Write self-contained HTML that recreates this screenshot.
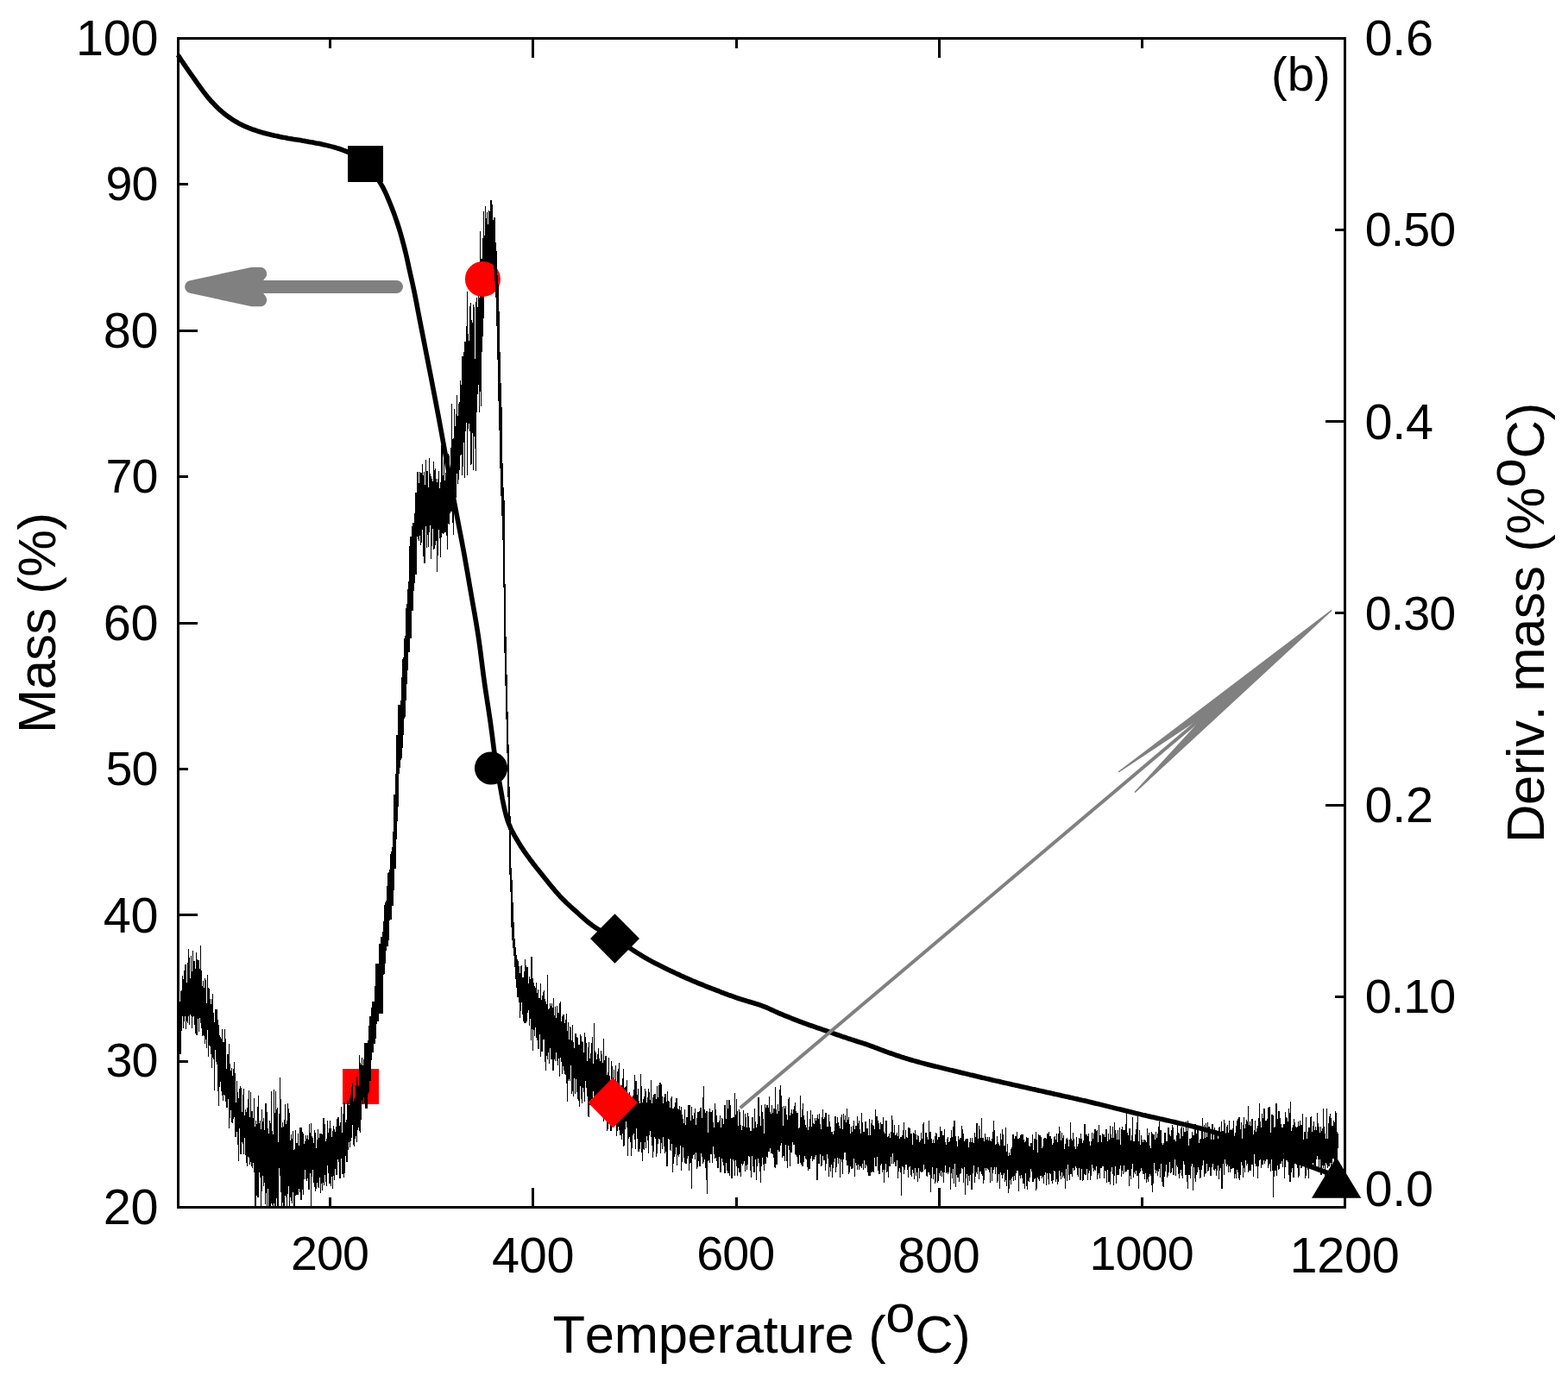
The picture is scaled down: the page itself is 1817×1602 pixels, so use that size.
<!DOCTYPE html>
<html><head><meta charset="utf-8"><title>TGA (b)</title>
<style>
html,body{margin:0;padding:0;background:#fff;overflow:hidden;}
svg{display:block;}
text{font-family:"Liberation Sans",sans-serif;fill:#000;font-kerning:none;font-variant-ligatures:none;}
.tk{font-size:57px;}
.tt{font-size:63px;}
</style></head><body>
<svg width="1817" height="1602" viewBox="0 0 1817 1602">
<rect x="0" y="0" width="1817" height="1602" fill="#fff"/>
<defs><clipPath id="cp"><rect x="206.5" y="44.5" width="1352.0" height="1355.0"/></clipPath></defs>
<rect x="397" y="1239" width="42" height="41" fill="#ff0000" shape-rendering="crispEdges"/>
<g clip-path="url(#cp)" fill="none" stroke="#000" stroke-width="1" shape-rendering="crispEdges">
<path d="M206.5,1196V1226M207.5,1175V1221M208.5,1161V1222M209.5,1149V1222M210.5,1148V1195M211.5,1131V1178M212.5,1135V1192M213.5,1125V1184M214.5,1118V1178M215.5,1118V1193M216.5,1139V1184M217.5,1116V1186M218.5,1100V1178M219.5,1110V1188M220.5,1134V1176M221.5,1108V1178M222.5,1126V1192M223.5,1102V1179M224.5,1114V1178M225.5,1114V1188M226.5,1123V1198M227.5,1104V1200M228.5,1112V1200M229.5,1113V1181M230.5,1113V1196M231.5,1123V1180M232.5,1096V1186M233.5,1125V1192M234.5,1143V1201M235.5,1137V1200M236.5,1145V1201M237.5,1134V1210M238.5,1136V1205M239.5,1163V1215M240.5,1130V1194M241.5,1145V1225M242.5,1146V1212M243.5,1158V1213M244.5,1164V1222M245.5,1158V1238M246.5,1152V1226M247.5,1174V1228M248.5,1185V1264M249.5,1170V1217M250.5,1170V1231M251.5,1170V1234M252.5,1182V1265M253.5,1188V1282M254.5,1200V1260M255.5,1202V1254M256.5,1204V1265M257.5,1193V1270M258.5,1208V1276M259.5,1208V1269M260.5,1193V1270M261.5,1204V1277M262.5,1239V1284M263.5,1222V1284M264.5,1222V1274M265.5,1210V1308M266.5,1233V1296M267.5,1241V1287M268.5,1238V1301M269.5,1247V1302M270.5,1239V1297M271.5,1231V1295M272.5,1244V1318M273.5,1278V1318M274.5,1253V1312M275.5,1266V1327M276.5,1273V1346M277.5,1262V1308M278.5,1259V1338M279.5,1261V1338M280.5,1289V1324M281.5,1269V1326M282.5,1262V1338M283.5,1293V1319M284.5,1286V1339M285.5,1289V1348M286.5,1284V1352M287.5,1274V1341M288.5,1264V1342M289.5,1295V1350M290.5,1266V1347M291.5,1288V1352M292.5,1288V1354M293.5,1296V1348M294.5,1273V1359M295.5,1306V1403M296.5,1299V1403M297.5,1303V1386M298.5,1283V1388M299.5,1270V1388M300.5,1302V1359M301.5,1299V1365M302.5,1309V1411M303.5,1286V1381M304.5,1300V1363M305.5,1296V1375M306.5,1310V1371M307.5,1279V1396M308.5,1279V1383M309.5,1289V1407M310.5,1308V1378M311.5,1314V1433M312.5,1299V1422M313.5,1302V1435M314.5,1265V1395M315.5,1311V1397M316.5,1315V1433M317.5,1263V1395M318.5,1290V1403M319.5,1265V1403M320.5,1286V1389M321.5,1284V1404M322.5,1324V1404M323.5,1291V1354M324.5,1249V1363M325.5,1274V1382M326.5,1307V1428M327.5,1301V1394M328.5,1306V1400M329.5,1298V1404M330.5,1280V1386M331.5,1303V1388M332.5,1299V1407M333.5,1279V1384M334.5,1285V1375M335.5,1290V1399M336.5,1322V1388M337.5,1315V1392M338.5,1320V1395M339.5,1311V1382M340.5,1333V1403M341.5,1332V1402M342.5,1310V1386M343.5,1325V1385M344.5,1325V1385M345.5,1314V1385M346.5,1328V1378M347.5,1307V1382M348.5,1307V1391M349.5,1307V1391M350.5,1312V1379M351.5,1314V1385M352.5,1326V1367M353.5,1323V1356M354.5,1316V1367M355.5,1320V1369M356.5,1316V1366M357.5,1321V1379M358.5,1303V1379M359.5,1313V1360M360.5,1302V1404M361.5,1317V1364M362.5,1319V1356M363.5,1325V1371M364.5,1310V1376M365.5,1313V1381M366.5,1331V1378M367.5,1321V1371M368.5,1309V1376M369.5,1319V1377M370.5,1314V1365M371.5,1314V1383M372.5,1314V1372M373.5,1315V1380M374.5,1296V1371M375.5,1296V1374M376.5,1303V1362M377.5,1323V1370M378.5,1320V1375M379.5,1299V1351M380.5,1313V1360M381.5,1308V1372M382.5,1299V1372M383.5,1308V1375M384.5,1318V1364M385.5,1311V1378M386.5,1305V1363M387.5,1309V1368M388.5,1312V1355M389.5,1306V1362M390.5,1297V1362M391.5,1295V1344M392.5,1295V1347M393.5,1305V1366M394.5,1301V1366M395.5,1283V1343M396.5,1313V1361M397.5,1291V1361M398.5,1279V1365M399.5,1278V1360M400.5,1301V1340M401.5,1298V1347M402.5,1275V1347M403.5,1276V1333M404.5,1281V1324M405.5,1273V1330M406.5,1269V1323M407.5,1260V1319M408.5,1255V1304M409.5,1277V1327M410.5,1274V1329M411.5,1272V1320M412.5,1258V1317M413.5,1248V1324M414.5,1255V1310M415.5,1259V1307M416.5,1223V1311M417.5,1232V1313M418.5,1234V1298M419.5,1226V1275M420.5,1235V1280M421.5,1228V1272M422.5,1209V1279M423.5,1209V1285M424.5,1209V1285M425.5,1209V1285M426.5,1206V1268M427.5,1189V1266M428.5,1178V1253M429.5,1178V1253M430.5,1168V1229M431.5,1161V1220M432.5,1161V1220M433.5,1161V1210M434.5,1143V1210M435.5,1117V1204M436.5,1117V1187M437.5,1117V1184M438.5,1117V1184M439.5,1094V1175M440.5,1094V1175M441.5,1086V1175M442.5,1086V1175M443.5,1080V1175M444.5,1068V1130M445.5,1049V1129M446.5,1046V1117M447.5,1044V1102M448.5,1027V1097M449.5,1012V1097M450.5,1011V1090M451.5,1008V1067M452.5,990V1066M453.5,987V1066M454.5,982V1050M455.5,964V1050M456.5,921V1032M457.5,921V1007M458.5,897V1007M459.5,852V973M460.5,852V952M461.5,817V935M462.5,817V897M463.5,817V890M464.5,812V881M465.5,785V879M466.5,764V867M467.5,762V852M468.5,740V833M469.5,737V831M470.5,705V812M471.5,700V793M472.5,683V777M473.5,674V756M474.5,633V756M475.5,622V740M476.5,622V740M477.5,610V708M478.5,606V708M479.5,606V685M480.5,595V676M481.5,571V666M482.5,571V666M483.5,547V622M484.5,547V625M485.5,560V627M486.5,547V621M487.5,548V632M488.5,548V629M489.5,538V614M490.5,551V645M491.5,547V653M492.5,562V653M493.5,533V610M494.5,546V635M495.5,546V620M496.5,565V634M497.5,531V617M498.5,549V609M499.5,552V648M500.5,555V633M501.5,558V613M502.5,535V637M503.5,545V636M504.5,543V632M505.5,555V627M506.5,559V663M507.5,555V644M508.5,546V614M509.5,566V624M510.5,559V646M511.5,516V623M512.5,516V618M513.5,551V619M514.5,532V618M515.5,557V617M516.5,548V617M517.5,538V621M518.5,538V637M519.5,526V607M520.5,528V608M521.5,549V595M522.5,519V593M523.5,468V593M524.5,509V606M525.5,508V620M526.5,474V569M527.5,494V580M528.5,480V577M529.5,458V549M530.5,482V561M531.5,468V556M532.5,466V545M533.5,441V528M534.5,446V527M535.5,413V551M536.5,413V541M537.5,408V513M538.5,396V554M539.5,396V500M540.5,378V490M541.5,338V551M542.5,387V497M543.5,395V491M544.5,355V500M545.5,351V539M546.5,371V538M547.5,374V502M548.5,353V545M549.5,356V506M550.5,416V520M551.5,350V546M552.5,345V478M553.5,356V457M554.5,324V446M555.5,345V478M556.5,268V454M557.5,300V471M558.5,300V408M559.5,276V390M560.5,245V369M561.5,273V325M562.5,239V326M563.5,253V326M564.5,246V315M565.5,260V312M566.5,244V312M567.5,245V312M568.5,232V312M569.5,232V312M570.5,237V312M571.5,255V312"/>
</g>
<circle cx="559.4" cy="323.4" r="20.5" fill="#ff0000"/>
<g clip-path="url(#cp)" fill="none" stroke="#000" stroke-width="1" shape-rendering="crispEdges">
<path d="M572.5,252V312M573.5,252V326M574.5,281V345M575.5,291V378M576.5,319V417M577.5,330V465M578.5,361V499M579.5,408V543M580.5,444V575M581.5,472V598M582.5,537V626M583.5,565V681M584.5,580V757M585.5,677V795M586.5,738V834M587.5,782V873M588.5,825V924M589.5,863V962M590.5,912V1014M591.5,946V1034M592.5,1006V1075M593.5,1020V1090M594.5,1046V1099M595.5,1069V1108M596.5,1088V1121M597.5,1098V1135M598.5,1107V1145M599.5,1112V1156M600.5,1114V1156M601.5,1120V1162M602.5,1128V1180M603.5,1120V1172M604.5,1119V1162M605.5,1133V1176M606.5,1133V1184M607.5,1126V1186M608.5,1112V1186M609.5,1119V1186M610.5,1121V1184M611.5,1121V1174M612.5,1140V1171M613.5,1132V1189M614.5,1135V1181M615.5,1109V1206M616.5,1109V1193M617.5,1134V1218M618.5,1139V1194M619.5,1143V1201M620.5,1145V1191M621.5,1139V1203M622.5,1151V1206M623.5,1147V1216M624.5,1157V1216M625.5,1157V1199M626.5,1140V1225M627.5,1159V1219M628.5,1154V1219M629.5,1150V1205M630.5,1148V1205M631.5,1158V1231M632.5,1161V1241M633.5,1164V1224M634.5,1130V1228M635.5,1170V1220M636.5,1169V1233M637.5,1163V1215M638.5,1166V1228M639.5,1163V1228M640.5,1168V1241M641.5,1157V1241M642.5,1177V1228M643.5,1167V1230M644.5,1180V1220M645.5,1166V1230M646.5,1174V1235M647.5,1174V1227M648.5,1163V1248M649.5,1161V1226M650.5,1184V1231M651.5,1178V1245M652.5,1176V1236M653.5,1176V1241M654.5,1186V1245M655.5,1182V1246M656.5,1175V1256M657.5,1195V1277M658.5,1185V1253M659.5,1205V1251M660.5,1190V1253M661.5,1191V1235M662.5,1206V1268M663.5,1188V1265M664.5,1208V1271M665.5,1215V1250M666.5,1198V1268M667.5,1198V1251M668.5,1202V1266M669.5,1203V1274M670.5,1211V1276M671.5,1211V1283M672.5,1199V1259M673.5,1201V1274M674.5,1207V1279M675.5,1208V1261M676.5,1220V1266M677.5,1197V1277M678.5,1202V1253M679.5,1209V1261M680.5,1230V1271M681.5,1214V1294M682.5,1208V1295M683.5,1227V1281M684.5,1221V1280M685.5,1209V1274M686.5,1202V1274M687.5,1233V1265M688.5,1186V1271M689.5,1218V1273M690.5,1220V1287M691.5,1228V1277M692.5,1222V1274M693.5,1215V1288M694.5,1227V1275M695.5,1230V1292M696.5,1218V1289M697.5,1222V1279M698.5,1232V1292M699.5,1204V1300M700.5,1229V1294M701.5,1224V1294M702.5,1224V1291M703.5,1246V1311M704.5,1243V1309M705.5,1226V1300M706.5,1247V1284M707.5,1256V1311M708.5,1230V1311M709.5,1236V1298M710.5,1258V1302M711.5,1240V1299M712.5,1253V1300M713.5,1235V1300M714.5,1259V1317M715.5,1242V1311M716.5,1239V1306M717.5,1232V1310M718.5,1268V1316M719.5,1261V1316M720.5,1258V1321M721.5,1250V1314M722.5,1239V1329M723.5,1261V1328M724.5,1260V1309M725.5,1259V1300M726.5,1252V1307M727.5,1273V1340M728.5,1276V1320M729.5,1266V1318M730.5,1272V1324M731.5,1271V1340M732.5,1274V1331M733.5,1270V1316M734.5,1263V1314M735.5,1246V1321M736.5,1253V1332M737.5,1253V1308M738.5,1269V1320M739.5,1262V1335M740.5,1276V1335M741.5,1279V1332M742.5,1245V1324M743.5,1259V1336M744.5,1278V1346M745.5,1274V1332M746.5,1271V1333M747.5,1262V1324M748.5,1265V1331M749.5,1278V1317M750.5,1272V1322M751.5,1262V1337M752.5,1266V1316M753.5,1275V1311M754.5,1252V1318M755.5,1279V1328M756.5,1272V1342M757.5,1269V1335M758.5,1268V1318M759.5,1268V1320M760.5,1274V1341M761.5,1259V1337M762.5,1272V1326M763.5,1258V1320M764.5,1255V1321M765.5,1255V1337M766.5,1257V1325M767.5,1271V1332M768.5,1279V1318M769.5,1272V1329M770.5,1268V1337M771.5,1268V1335M772.5,1277V1352M773.5,1265V1352M774.5,1276V1320M775.5,1277V1321M776.5,1284V1333M777.5,1273V1334M778.5,1271V1326M779.5,1285V1359M780.5,1285V1349M781.5,1283V1341M782.5,1278V1338M783.5,1273V1330M784.5,1273V1351M785.5,1285V1339M786.5,1286V1341M787.5,1282V1338M788.5,1287V1328M789.5,1283V1357M790.5,1292V1347M791.5,1297V1330M792.5,1302V1342M793.5,1286V1348M794.5,1304V1349M795.5,1295V1349M796.5,1295V1343M797.5,1281V1340M798.5,1281V1357M799.5,1281V1349M800.5,1299V1348M801.5,1283V1378M802.5,1293V1343M803.5,1297V1339M804.5,1290V1338M805.5,1285V1344M806.5,1304V1336M807.5,1296V1355M808.5,1289V1353M809.5,1289V1346M810.5,1288V1352M811.5,1284V1352M812.5,1284V1337M813.5,1296V1341M814.5,1272V1349M815.5,1259V1347M816.5,1286V1344M817.5,1290V1354M818.5,1288V1368M819.5,1288V1384M820.5,1313V1346M821.5,1289V1345M822.5,1285V1348M823.5,1289V1338M824.5,1289V1338M825.5,1287V1348M826.5,1301V1329M827.5,1307V1338M828.5,1279V1343M829.5,1286V1342M830.5,1293V1346M831.5,1301V1354M832.5,1301V1354M833.5,1299V1341M834.5,1293V1359M835.5,1307V1359M836.5,1296V1343M837.5,1297V1347M838.5,1303V1351M839.5,1281V1360M840.5,1281V1360M841.5,1297V1348M842.5,1275V1357M843.5,1285V1360M844.5,1275V1360M845.5,1275V1363M846.5,1281V1343M847.5,1296V1366M848.5,1296V1366M849.5,1295V1344M850.5,1295V1346M851.5,1267V1363M852.5,1292V1345M853.5,1274V1352M854.5,1288V1363M855.5,1305V1354M856.5,1286V1359M857.5,1289V1359M858.5,1304V1364M859.5,1310V1349M860.5,1305V1351M861.5,1287V1349M862.5,1306V1346M863.5,1291V1358M864.5,1295V1351M865.5,1307V1356M866.5,1290V1350M867.5,1294V1340M868.5,1307V1341M869.5,1311V1357M870.5,1311V1365M871.5,1295V1340M872.5,1295V1352M873.5,1308V1359M874.5,1285V1359M875.5,1300V1344M876.5,1307V1368M877.5,1303V1352M878.5,1272V1343M879.5,1272V1348M880.5,1294V1358M881.5,1305V1371M882.5,1281V1352M883.5,1289V1342M884.5,1297V1350M885.5,1314V1357M886.5,1280V1349M887.5,1284V1349M888.5,1281V1341M889.5,1281V1342M890.5,1284V1335M891.5,1271V1335M892.5,1289V1331M893.5,1291V1337M894.5,1281V1337M895.5,1290V1338M896.5,1285V1342M897.5,1285V1353M898.5,1260V1354M899.5,1286V1350M900.5,1291V1350M901.5,1280V1333M902.5,1288V1335M903.5,1263V1335M904.5,1258V1328M905.5,1270V1325M906.5,1283V1342M907.5,1305V1340M908.5,1282V1340M909.5,1285V1346M910.5,1282V1327M911.5,1292V1346M912.5,1298V1354M913.5,1274V1328M914.5,1272V1333M915.5,1293V1352M916.5,1290V1336M917.5,1286V1336M918.5,1291V1324M919.5,1286V1327M920.5,1282V1327M921.5,1278V1338M922.5,1288V1339M923.5,1290V1341M924.5,1290V1349M925.5,1308V1349M926.5,1307V1339M927.5,1270V1348M928.5,1295V1350M929.5,1286V1352M930.5,1279V1352M931.5,1293V1347M932.5,1298V1340M933.5,1304V1343M934.5,1307V1344M935.5,1288V1353M936.5,1310V1357M937.5,1306V1355M938.5,1297V1355M939.5,1287V1343M940.5,1306V1340M941.5,1292V1346M942.5,1302V1344M943.5,1303V1344M944.5,1296V1341M945.5,1299V1339M946.5,1296V1368M947.5,1292V1368M948.5,1297V1349M949.5,1291V1349M950.5,1303V1338M951.5,1309V1352M952.5,1295V1351M953.5,1286V1340M954.5,1297V1345M955.5,1295V1345M956.5,1290V1357M957.5,1290V1349M958.5,1306V1338M959.5,1306V1343M960.5,1292V1364M961.5,1300V1353M962.5,1306V1358M963.5,1312V1350M964.5,1312V1365M965.5,1315V1354M966.5,1311V1347M967.5,1294V1343M968.5,1294V1359M969.5,1302V1353M970.5,1295V1342M971.5,1301V1349M972.5,1305V1343M973.5,1308V1365M974.5,1295V1344M975.5,1292V1347M976.5,1309V1361M977.5,1291V1344M978.5,1298V1336M979.5,1293V1336M980.5,1301V1345M981.5,1285V1351M982.5,1298V1351M983.5,1295V1361M984.5,1303V1359M985.5,1314V1352M986.5,1306V1355M987.5,1312V1355M988.5,1305V1354M989.5,1299V1343M990.5,1309V1364M991.5,1305V1348M992.5,1305V1351M993.5,1294V1356M994.5,1302V1350M995.5,1299V1356M996.5,1309V1352M997.5,1314V1352M998.5,1290V1354M999.5,1301V1349M1000.5,1312V1356M1001.5,1312V1345M1002.5,1300V1354M1003.5,1300V1350M1004.5,1308V1352M1005.5,1308V1359M1006.5,1316V1363M1007.5,1297V1363M1008.5,1316V1363M1009.5,1302V1359M1010.5,1298V1359M1011.5,1304V1358M1012.5,1305V1359M1013.5,1309V1342M1014.5,1286V1352M1015.5,1294V1352M1016.5,1294V1341M1017.5,1299V1357M1018.5,1302V1361M1019.5,1309V1361M1020.5,1301V1351M1021.5,1303V1349M1022.5,1303V1359M1023.5,1295V1356M1024.5,1312V1371M1025.5,1314V1356M1026.5,1299V1349M1027.5,1299V1359M1028.5,1318V1358M1029.5,1317V1365M1030.5,1314V1352M1031.5,1319V1352M1032.5,1312V1341M1033.5,1293V1349M1034.5,1298V1337M1035.5,1313V1349M1036.5,1304V1347M1037.5,1316V1352M1038.5,1315V1352M1039.5,1313V1345M1040.5,1317V1366M1041.5,1304V1358M1042.5,1320V1354M1043.5,1318V1359M1044.5,1318V1386M1045.5,1316V1352M1046.5,1310V1353M1047.5,1301V1361M1048.5,1320V1356M1049.5,1310V1350M1050.5,1318V1350M1051.5,1319V1356M1052.5,1307V1365M1053.5,1307V1353M1054.5,1308V1352M1055.5,1314V1362M1056.5,1314V1364M1057.5,1327V1356M1058.5,1313V1360M1059.5,1314V1367M1060.5,1310V1354M1061.5,1315V1363M1062.5,1321V1359M1063.5,1316V1370M1064.5,1317V1354M1065.5,1324V1366M1066.5,1322V1358M1067.5,1313V1359M1068.5,1320V1359M1069.5,1303V1358M1070.5,1301V1350M1071.5,1326V1356M1072.5,1313V1355M1073.5,1313V1363M1074.5,1318V1364M1075.5,1321V1359M1076.5,1299V1359M1077.5,1312V1362M1078.5,1312V1382M1079.5,1320V1366M1080.5,1325V1353M1081.5,1321V1367M1082.5,1325V1361M1083.5,1317V1372M1084.5,1313V1370M1085.5,1314V1354M1086.5,1321V1371M1087.5,1318V1369M1088.5,1318V1360M1089.5,1306V1363M1090.5,1311V1357M1091.5,1311V1364M1092.5,1316V1359M1093.5,1316V1371M1094.5,1309V1359M1095.5,1324V1351M1096.5,1327V1360M1097.5,1320V1359M1098.5,1318V1361M1099.5,1324V1359M1100.5,1323V1353M1101.5,1319V1379M1102.5,1310V1360M1103.5,1318V1366M1104.5,1306V1355M1105.5,1299V1372M1106.5,1299V1349M1107.5,1317V1376M1108.5,1323V1362M1109.5,1329V1365M1110.5,1317V1365M1111.5,1321V1370M1112.5,1319V1361M1113.5,1319V1360M1114.5,1305V1354M1115.5,1309V1355M1116.5,1314V1371M1117.5,1323V1353M1118.5,1321V1385M1119.5,1320V1366M1120.5,1320V1361M1121.5,1320V1374M1122.5,1330V1363M1123.5,1324V1369M1124.5,1319V1362M1125.5,1324V1379M1126.5,1319V1379M1127.5,1324V1360M1128.5,1325V1351M1129.5,1313V1371M1130.5,1318V1364M1131.5,1302V1359M1132.5,1302V1361M1133.5,1320V1353M1134.5,1305V1367M1135.5,1309V1358M1136.5,1319V1358M1137.5,1296V1361M1138.5,1319V1363M1139.5,1319V1372M1140.5,1323V1368M1141.5,1314V1354M1142.5,1318V1357M1143.5,1321V1354M1144.5,1318V1355M1145.5,1322V1356M1146.5,1318V1359M1147.5,1322V1371M1148.5,1323V1353M1149.5,1320V1369M1150.5,1312V1360M1151.5,1299V1356M1152.5,1310V1353M1153.5,1327V1361M1154.5,1326V1353M1155.5,1317V1371M1156.5,1324V1369M1157.5,1326V1361M1158.5,1328V1378M1159.5,1314V1359M1160.5,1321V1362M1161.5,1309V1366M1162.5,1315V1362M1163.5,1328V1360M1164.5,1328V1370M1165.5,1307V1368M1166.5,1335V1375M1167.5,1326V1356M1168.5,1340V1383M1169.5,1336V1378M1170.5,1339V1368M1171.5,1332V1373M1172.5,1330V1366M1173.5,1315V1364M1174.5,1315V1369M1175.5,1320V1363M1176.5,1317V1368M1177.5,1317V1360M1178.5,1312V1357M1179.5,1320V1357M1180.5,1320V1381M1181.5,1319V1363M1182.5,1316V1366M1183.5,1315V1362M1184.5,1315V1366M1185.5,1315V1372M1186.5,1321V1372M1187.5,1324V1378M1188.5,1323V1360M1189.5,1318V1375M1190.5,1319V1379M1191.5,1319V1369M1192.5,1328V1370M1193.5,1329V1365M1194.5,1325V1355M1195.5,1325V1358M1196.5,1315V1370M1197.5,1333V1370M1198.5,1320V1367M1199.5,1320V1366M1200.5,1312V1380M1201.5,1321V1378M1202.5,1336V1365M1203.5,1315V1367M1204.5,1316V1369M1205.5,1316V1363M1206.5,1318V1363M1207.5,1331V1366M1208.5,1329V1364M1209.5,1320V1372M1210.5,1319V1362M1211.5,1319V1359M1212.5,1320V1374M1213.5,1314V1360M1214.5,1314V1367M1215.5,1312V1373M1216.5,1317V1360M1217.5,1317V1361M1218.5,1320V1369M1219.5,1327V1372M1220.5,1325V1368M1221.5,1318V1357M1222.5,1317V1358M1223.5,1321V1370M1224.5,1314V1367M1225.5,1324V1373M1226.5,1314V1370M1227.5,1306V1357M1228.5,1311V1363M1229.5,1322V1367M1230.5,1313V1359M1231.5,1319V1365M1232.5,1316V1363M1233.5,1332V1366M1234.5,1326V1378M1235.5,1320V1355M1236.5,1319V1369M1237.5,1321V1350M1238.5,1329V1362M1239.5,1321V1368M1240.5,1301V1361M1241.5,1320V1361M1242.5,1322V1364M1243.5,1313V1354M1244.5,1320V1357M1245.5,1329V1356M1246.5,1332V1352M1247.5,1318V1354M1248.5,1329V1362M1249.5,1326V1364M1250.5,1319V1354M1251.5,1320V1368M1252.5,1314V1368M1253.5,1320V1355M1254.5,1325V1369M1255.5,1322V1368M1256.5,1303V1361M1257.5,1303V1362M1258.5,1315V1362M1259.5,1315V1355M1260.5,1317V1368M1261.5,1314V1360M1262.5,1323V1357M1263.5,1328V1368M1264.5,1323V1363M1265.5,1313V1350M1266.5,1320V1354M1267.5,1314V1358M1268.5,1309V1356M1269.5,1309V1357M1270.5,1311V1352M1271.5,1310V1367M1272.5,1324V1362M1273.5,1304V1360M1274.5,1316V1366M1275.5,1316V1354M1276.5,1324V1354M1277.5,1314V1352M1278.5,1315V1352M1279.5,1315V1366M1280.5,1318V1357M1281.5,1309V1358M1282.5,1309V1371M1283.5,1323V1356M1284.5,1314V1370M1285.5,1321V1370M1286.5,1305V1373M1287.5,1315V1358M1288.5,1319V1353M1289.5,1306V1361M1290.5,1319V1374M1291.5,1301V1363M1292.5,1310V1352M1293.5,1314V1372M1294.5,1321V1362M1295.5,1310V1362M1296.5,1321V1362M1297.5,1307V1355M1298.5,1327V1351M1299.5,1309V1364M1300.5,1306V1357M1301.5,1310V1361M1302.5,1310V1351M1303.5,1310V1359M1304.5,1303V1358M1305.5,1287V1358M1306.5,1313V1356M1307.5,1316V1356M1308.5,1308V1375M1309.5,1308V1363M1310.5,1322V1367M1311.5,1316V1355M1312.5,1295V1349M1313.5,1323V1365M1314.5,1323V1359M1315.5,1315V1361M1316.5,1309V1357M1317.5,1301V1363M1318.5,1294V1363M1319.5,1323V1378M1320.5,1310V1360M1321.5,1327V1358M1322.5,1316V1354M1323.5,1321V1357M1324.5,1324V1361M1325.5,1321V1361M1326.5,1321V1367M1327.5,1322V1360M1328.5,1324V1371M1329.5,1308V1367M1330.5,1316V1370M1331.5,1313V1364M1332.5,1328V1361M1333.5,1331V1363M1334.5,1312V1374M1335.5,1314V1382M1336.5,1315V1372M1337.5,1315V1348M1338.5,1321V1356M1339.5,1312V1360M1340.5,1319V1357M1341.5,1314V1363M1342.5,1306V1358M1343.5,1300V1355M1344.5,1310V1365M1345.5,1310V1349M1346.5,1325V1370M1347.5,1327V1375M1348.5,1325V1376M1349.5,1313V1364M1350.5,1313V1358M1351.5,1323V1350M1352.5,1323V1365M1353.5,1307V1363M1354.5,1307V1359M1355.5,1315V1347M1356.5,1317V1360M1357.5,1310V1359M1358.5,1304V1354M1359.5,1307V1362M1360.5,1321V1362M1361.5,1321V1344M1362.5,1323V1363M1363.5,1316V1351M1364.5,1300V1353M1365.5,1313V1361M1366.5,1314V1366M1367.5,1320V1360M1368.5,1308V1356M1369.5,1306V1363M1370.5,1317V1366M1371.5,1307V1346M1372.5,1312V1350M1373.5,1312V1362M1374.5,1300V1362M1375.5,1311V1370M1376.5,1299V1378M1377.5,1328V1362M1378.5,1320V1362M1379.5,1320V1366M1380.5,1319V1352M1381.5,1312V1349M1382.5,1316V1380M1383.5,1316V1353M1384.5,1303V1366M1385.5,1303V1370M1386.5,1314V1362M1387.5,1307V1359M1388.5,1307V1353M1389.5,1325V1356M1390.5,1321V1366M1391.5,1320V1365M1392.5,1311V1356M1393.5,1296V1351M1394.5,1320V1345M1395.5,1304V1364M1396.5,1319V1361M1397.5,1302V1360M1398.5,1318V1349M1399.5,1301V1358M1400.5,1306V1357M1401.5,1306V1353M1402.5,1309V1363M1403.5,1321V1363M1404.5,1303V1353M1405.5,1303V1349M1406.5,1321V1356M1407.5,1307V1357M1408.5,1311V1355M1409.5,1315V1363M1410.5,1315V1357M1411.5,1320V1351M1412.5,1307V1367M1413.5,1306V1357M1414.5,1312V1354M1415.5,1300V1378M1416.5,1311V1378M1417.5,1311V1349M1418.5,1298V1362M1419.5,1302V1344M1420.5,1318V1349M1421.5,1306V1352M1422.5,1304V1350M1423.5,1313V1359M1424.5,1299V1352M1425.5,1310V1359M1426.5,1309V1355M1427.5,1310V1355M1428.5,1308V1354M1429.5,1299V1354M1430.5,1319V1366M1431.5,1313V1361M1432.5,1305V1366M1433.5,1299V1356M1434.5,1297V1359M1435.5,1295V1366M1436.5,1295V1368M1437.5,1309V1362M1438.5,1301V1347M1439.5,1320V1351M1440.5,1304V1365M1441.5,1295V1354M1442.5,1308V1359M1443.5,1303V1345M1444.5,1298V1351M1445.5,1300V1349M1446.5,1282V1359M1447.5,1304V1357M1448.5,1300V1357M1449.5,1305V1357M1450.5,1297V1350M1451.5,1297V1350M1452.5,1315V1364M1453.5,1310V1338M1454.5,1299V1349M1455.5,1312V1352M1456.5,1308V1352M1457.5,1305V1366M1458.5,1296V1352M1459.5,1279V1345M1460.5,1300V1344M1461.5,1307V1354M1462.5,1291V1350M1463.5,1296V1350M1464.5,1285V1345M1465.5,1285V1349M1466.5,1299V1346M1467.5,1299V1344M1468.5,1297V1344M1469.5,1284V1354M1470.5,1283V1351M1471.5,1283V1349M1472.5,1313V1358M1473.5,1292V1344M1474.5,1292V1357M1475.5,1293V1388M1476.5,1307V1364M1477.5,1306V1357M1478.5,1279V1357M1479.5,1279V1363M1480.5,1297V1351M1481.5,1288V1356M1482.5,1288V1355M1483.5,1296V1349M1484.5,1303V1349M1485.5,1307V1346M1486.5,1307V1353M1487.5,1303V1337M1488.5,1303V1366M1489.5,1289V1353M1490.5,1295V1345M1491.5,1296V1343M1492.5,1300V1347M1493.5,1285V1362M1494.5,1290V1370M1495.5,1277V1370M1496.5,1311V1359M1497.5,1307V1354M1498.5,1304V1365M1499.5,1297V1365M1500.5,1301V1349M1501.5,1306V1348M1502.5,1307V1350M1503.5,1306V1354M1504.5,1300V1365M1505.5,1305V1363M1506.5,1299V1346M1507.5,1304V1354M1508.5,1304V1354M1509.5,1291V1352M1510.5,1321V1349M1511.5,1312V1350M1512.5,1312V1366M1513.5,1295V1363M1514.5,1320V1349M1515.5,1312V1356M1516.5,1307V1366M1517.5,1307V1349M1518.5,1295V1350M1519.5,1294V1354M1520.5,1312V1352M1521.5,1305V1348M1522.5,1300V1353M1523.5,1310V1351M1524.5,1306V1355M1525.5,1310V1344M1526.5,1290V1340M1527.5,1302V1344M1528.5,1306V1357M1529.5,1313V1344M1530.5,1306V1362M1531.5,1311V1362M1532.5,1308V1351M1533.5,1285V1354M1534.5,1306V1351M1535.5,1314V1366M1536.5,1320V1348M1537.5,1285V1350M1538.5,1320V1354M1539.5,1302V1352M1540.5,1294V1352M1541.5,1291V1348M1542.5,1296V1354M1543.5,1305V1348M1544.5,1305V1343M1545.5,1299V1343M1546.5,1301V1345M1547.5,1288V1352M1548.5,1290V1344M1549.5,1312V1359M1550.5,1314V1331"/>
</g>
<polygon points="710.25,1249 739,1278.25 710.25,1307.5 681.5,1278.25" fill="#ff0000"/>
<path d="M206.2,63.8 L208.2,66.8 L210.2,69.9 L212.2,72.9 L214.2,75.8 L216.2,78.8 L218.2,81.7 L220.2,84.6 L222.2,87.4 L224.2,90.2 L226.2,93.0 L228.2,95.8 L230.2,98.6 L232.2,101.4 L234.2,104.1 L236.2,106.8 L238.2,109.4 L240.2,112.0 L242.2,114.4 L244.2,116.7 L246.2,118.8 L248.2,120.9 L250.2,123.0 L252.2,125.0 L254.2,126.9 L256.2,128.7 L258.2,130.4 L260.2,132.0 L262.2,133.6 L264.2,135.0 L266.2,136.4 L268.2,137.8 L270.2,139.1 L272.2,140.3 L274.2,141.5 L276.2,142.7 L278.2,143.7 L280.2,144.7 L282.2,145.7 L284.2,146.6 L286.2,147.4 L288.2,148.3 L290.2,149.0 L292.2,149.8 L294.2,150.5 L296.2,151.2 L298.2,151.9 L300.2,152.5 L302.2,153.1 L304.2,153.7 L306.2,154.2 L308.2,154.8 L310.2,155.3 L312.2,155.8 L314.2,156.3 L316.2,156.7 L318.2,157.2 L320.2,157.6 L322.2,158.0 L324.2,158.5 L326.2,158.9 L328.2,159.3 L330.2,159.6 L332.2,160.0 L334.2,160.4 L336.2,160.7 L338.2,161.1 L340.2,161.4 L342.2,161.7 L344.2,162.0 L346.2,162.3 L348.2,162.6 L350.2,163.0 L352.2,163.3 L354.2,163.7 L356.2,164.0 L358.2,164.4 L360.2,164.8 L362.2,165.1 L364.2,165.5 L366.2,165.9 L368.2,166.2 L370.2,166.6 L372.2,167.0 L374.2,167.5 L376.2,167.9 L378.2,168.4 L380.2,168.9 L382.2,169.4 L384.2,169.9 L386.2,170.4 L388.2,171.0 L390.2,171.6 L392.2,172.2 L394.2,172.8 L396.2,173.5 L398.2,174.3 L400.2,175.0 L402.2,175.9 L404.2,176.7 L406.2,177.7 L408.2,178.7 L410.2,179.9 L412.2,181.1 L414.2,182.4 L416.2,183.9 L418.2,185.4 L420.2,187.0 L422.2,188.7 L424.2,190.5 L426.2,192.4 L428.2,194.6 L430.2,196.9 L432.2,199.5 L434.2,202.2 L436.2,205.0 L438.2,208.1 L440.2,211.3 L442.2,214.6 L444.2,218.2 L446.2,222.2 L448.2,226.6 L450.2,231.3 L452.2,236.2 L454.2,241.3 L456.2,246.5 L458.2,252.1 L460.2,258.0 L462.2,264.2 L464.2,270.8 L466.2,277.9 L468.2,285.5 L470.2,293.5 L472.2,302.4 L474.2,311.6 L476.2,320.6 L478.2,329.5 L480.2,338.8 L482.2,348.9 L484.2,359.5 L486.2,369.9 L488.2,380.1 L490.2,390.3 L492.2,400.5 L494.2,410.7 L496.2,420.9 L498.2,431.0 L500.2,441.3 L502.2,451.7 L504.2,462.1 L506.2,472.7 L508.2,483.3 L510.2,494.1 L512.2,505.0 L514.2,516.1 L516.2,527.1 L518.2,538.1 L520.2,548.9 L522.2,559.6 L524.2,570.2 L526.2,580.7 L528.2,591.3 L530.2,601.8 L532.2,612.2 L534.2,622.6 L536.2,633.2 L538.2,644.1 L540.2,655.4 L542.2,666.8 L544.2,678.4 L546.2,690.0 L548.2,701.4 L550.2,712.8 L552.2,724.5 L554.2,737.0 L556.2,751.1 L558.2,766.9 L560.2,782.6 L562.2,797.0 L564.2,810.2 L566.2,823.1 L568.2,836.5 L570.2,851.4 L572.2,867.4 L574.2,881.6 L576.2,893.2 L578.2,903.8 L580.2,914.8 L582.2,926.2 L584.2,936.0 L586.2,944.2 L588.2,951.1 L590.2,956.4 L592.2,960.9 L594.2,964.9 L596.2,968.6 L598.2,972.0 L600.2,975.4 L602.2,978.7 L604.2,981.9 L606.2,984.9 L608.2,987.8 L610.2,990.6 L612.2,993.4 L614.2,996.2 L616.2,998.8 L618.2,1001.5 L620.2,1004.0 L622.2,1006.6 L624.2,1009.1 L626.2,1011.6 L628.2,1014.1 L630.2,1016.6 L632.2,1019.1 L634.2,1021.6 L636.2,1024.1 L638.2,1026.5 L640.2,1028.9 L642.2,1031.3 L644.2,1033.7 L646.2,1035.9 L648.2,1038.1 L650.2,1040.3 L652.2,1042.3 L654.2,1044.3 L656.2,1046.3 L658.2,1048.2 L660.2,1050.0 L662.2,1051.8 L664.2,1053.6 L666.2,1055.4 L668.2,1057.2 L670.2,1059.0 L672.2,1060.8 L674.2,1062.6 L676.2,1064.3 L678.2,1066.1 L680.2,1067.8 L682.2,1069.5 L684.2,1071.1 L686.2,1072.6 L688.2,1074.0 L690.2,1075.3 L692.2,1076.6 L694.2,1077.8 L696.2,1079.0 L698.2,1080.1 L700.2,1081.2 L702.2,1082.3 L704.2,1083.4 L706.2,1084.4 L708.2,1085.6 L710.2,1086.7 L712.2,1087.9 L714.2,1089.1 L716.2,1090.3 L718.2,1091.5 L720.2,1092.8 L722.2,1094.0 L724.2,1095.3 L726.2,1096.6 L728.2,1097.9 L730.2,1099.2 L732.2,1100.5 L734.2,1101.8 L736.2,1103.1 L738.2,1104.3 L740.2,1105.6 L742.2,1106.8 L744.2,1108.1 L746.2,1109.3 L748.2,1110.5 L750.2,1111.6 L752.2,1112.8 L754.2,1113.9 L756.2,1115.0 L758.2,1116.0 L760.2,1117.1 L762.2,1118.1 L764.2,1119.1 L766.2,1120.1 L768.2,1121.1 L770.2,1122.1 L772.2,1123.0 L774.2,1124.0 L776.2,1124.9 L778.2,1125.9 L780.2,1126.8 L782.2,1127.8 L784.2,1128.7 L786.2,1129.6 L788.2,1130.6 L790.2,1131.5 L792.2,1132.4 L794.2,1133.3 L796.2,1134.1 L798.2,1135.0 L800.2,1135.9 L802.2,1136.8 L804.2,1137.6 L806.2,1138.4 L808.2,1139.3 L810.2,1140.1 L812.2,1140.9 L814.2,1141.7 L816.2,1142.5 L818.2,1143.3 L820.2,1144.1 L822.2,1144.9 L824.2,1145.7 L826.2,1146.4 L828.2,1147.2 L830.2,1148.0 L832.2,1148.7 L834.2,1149.5 L836.2,1150.3 L838.2,1151.0 L840.2,1151.8 L842.2,1152.5 L844.2,1153.3 L846.2,1154.0 L848.2,1154.7 L850.2,1155.4 L852.2,1156.1 L854.2,1156.8 L856.2,1157.5 L858.2,1158.1 L860.2,1158.8 L862.2,1159.4 L864.2,1160.0 L866.2,1160.6 L868.2,1161.2 L870.2,1161.8 L872.2,1162.4 L874.2,1163.0 L876.2,1163.6 L878.2,1164.2 L880.2,1164.9 L882.2,1165.6 L884.2,1166.3 L886.2,1167.1 L888.2,1167.9 L890.2,1168.8 L892.2,1169.7 L894.2,1170.6 L896.2,1171.5 L898.2,1172.5 L900.2,1173.4 L902.2,1174.3 L904.2,1175.1 L906.2,1175.9 L908.2,1176.8 L910.2,1177.6 L912.2,1178.4 L914.2,1179.2 L916.2,1180.0 L918.2,1180.8 L920.2,1181.6 L922.2,1182.4 L924.2,1183.2 L926.2,1184.0 L928.2,1184.7 L930.2,1185.5 L932.2,1186.2 L934.2,1186.9 L936.2,1187.6 L938.2,1188.3 L940.2,1189.0 L942.2,1189.7 L944.2,1190.4 L946.2,1191.1 L948.2,1191.8 L950.2,1192.4 L952.2,1193.1 L954.2,1193.8 L956.2,1194.5 L958.2,1195.2 L960.2,1196.0 L962.2,1196.7 L964.2,1197.4 L966.2,1198.1 L968.2,1198.8 L970.2,1199.5 L972.2,1200.2 L974.2,1200.9 L976.2,1201.6 L978.2,1202.2 L980.2,1202.9 L982.2,1203.6 L984.2,1204.2 L986.2,1204.9 L988.2,1205.5 L990.2,1206.2 L992.2,1206.8 L994.2,1207.5 L996.2,1208.1 L998.2,1208.7 L1000.2,1209.4 L1002.2,1210.0 L1004.2,1210.7 L1006.2,1211.4 L1008.2,1212.1 L1010.2,1212.8 L1012.2,1213.5 L1014.2,1214.3 L1016.2,1215.0 L1018.2,1215.8 L1020.2,1216.6 L1022.2,1217.3 L1024.2,1218.1 L1026.2,1218.9 L1028.2,1219.6 L1030.2,1220.3 L1032.2,1221.0 L1034.2,1221.7 L1036.2,1222.4 L1038.2,1223.1 L1040.2,1223.8 L1042.2,1224.4 L1044.2,1225.1 L1046.2,1225.7 L1048.2,1226.4 L1050.2,1227.0 L1052.2,1227.6 L1054.2,1228.2 L1056.2,1228.8 L1058.2,1229.4 L1060.2,1229.9 L1062.2,1230.5 L1064.2,1231.0 L1066.2,1231.6 L1068.2,1232.1 L1070.2,1232.6 L1072.2,1233.2 L1074.2,1233.7 L1076.2,1234.2 L1078.2,1234.7 L1080.2,1235.2 L1082.2,1235.7 L1084.2,1236.2 L1086.2,1236.6 L1088.2,1237.1 L1090.2,1237.6 L1092.2,1238.1 L1094.2,1238.6 L1096.2,1239.1 L1098.2,1239.6 L1100.2,1240.1 L1102.2,1240.6 L1104.2,1241.0 L1106.2,1241.5 L1108.2,1242.0 L1110.2,1242.5 L1112.2,1243.0 L1114.2,1243.5 L1116.2,1243.9 L1118.2,1244.4 L1120.2,1244.9 L1122.2,1245.4 L1124.2,1245.9 L1126.2,1246.3 L1128.2,1246.8 L1130.2,1247.3 L1132.2,1247.8 L1134.2,1248.2 L1136.2,1248.7 L1138.2,1249.2 L1140.2,1249.6 L1142.2,1250.1 L1144.2,1250.6 L1146.2,1251.0 L1148.2,1251.5 L1150.2,1252.0 L1152.2,1252.4 L1154.2,1252.9 L1156.2,1253.3 L1158.2,1253.8 L1160.2,1254.3 L1162.2,1254.7 L1164.2,1255.2 L1166.2,1255.6 L1168.2,1256.1 L1170.2,1256.5 L1172.2,1257.0 L1174.2,1257.4 L1176.2,1257.9 L1178.2,1258.3 L1180.2,1258.8 L1182.2,1259.2 L1184.2,1259.7 L1186.2,1260.1 L1188.2,1260.6 L1190.2,1261.0 L1192.2,1261.5 L1194.2,1261.9 L1196.2,1262.4 L1198.2,1262.8 L1200.2,1263.3 L1202.2,1263.7 L1204.2,1264.2 L1206.2,1264.6 L1208.2,1265.1 L1210.2,1265.5 L1212.2,1266.0 L1214.2,1266.4 L1216.2,1266.8 L1218.2,1267.3 L1220.2,1267.7 L1222.2,1268.2 L1224.2,1268.6 L1226.2,1269.1 L1228.2,1269.5 L1230.2,1270.0 L1232.2,1270.4 L1234.2,1270.9 L1236.2,1271.3 L1238.2,1271.7 L1240.2,1272.2 L1242.2,1272.6 L1244.2,1273.1 L1246.2,1273.6 L1248.2,1274.0 L1250.2,1274.5 L1252.2,1274.9 L1254.2,1275.4 L1256.2,1275.8 L1258.2,1276.3 L1260.2,1276.8 L1262.2,1277.2 L1264.2,1277.7 L1266.2,1278.2 L1268.2,1278.7 L1270.2,1279.2 L1272.2,1279.6 L1274.2,1280.1 L1276.2,1280.6 L1278.2,1281.1 L1280.2,1281.6 L1282.2,1282.1 L1284.2,1282.6 L1286.2,1283.1 L1288.2,1283.6 L1290.2,1284.1 L1292.2,1284.6 L1294.2,1285.1 L1296.2,1285.6 L1298.2,1286.0 L1300.2,1286.5 L1302.2,1287.0 L1304.2,1287.5 L1306.2,1288.0 L1308.2,1288.5 L1310.2,1289.0 L1312.2,1289.5 L1314.2,1290.0 L1316.2,1290.5 L1318.2,1290.9 L1320.2,1291.4 L1322.2,1291.9 L1324.2,1292.4 L1326.2,1292.8 L1328.2,1293.3 L1330.2,1293.7 L1332.2,1294.2 L1334.2,1294.7 L1336.2,1295.1 L1338.2,1295.5 L1340.2,1296.0 L1342.2,1296.4 L1344.2,1296.9 L1346.2,1297.3 L1348.2,1297.8 L1350.2,1298.2 L1352.2,1298.7 L1354.2,1299.1 L1356.2,1299.6 L1358.2,1300.1 L1360.2,1300.5 L1362.2,1301.0 L1364.2,1301.5 L1366.2,1302.0 L1368.2,1302.4 L1370.2,1302.9 L1372.2,1303.4 L1374.2,1303.9 L1376.2,1304.3 L1378.2,1304.8 L1380.2,1305.3 L1382.2,1305.8 L1384.2,1306.3 L1386.2,1306.8 L1388.2,1307.3 L1390.2,1307.8 L1392.2,1308.4 L1394.2,1308.9 L1396.2,1309.4 L1398.2,1310.0 L1400.2,1310.5 L1402.2,1311.1 L1404.2,1311.6 L1406.2,1312.2 L1408.2,1312.8 L1410.2,1313.4 L1412.2,1314.0 L1414.2,1314.6 L1416.2,1315.2 L1418.2,1315.8 L1420.2,1316.4 L1422.2,1317.1 L1424.2,1317.7 L1426.2,1318.3 L1428.2,1319.0 L1430.2,1319.6 L1432.2,1320.3 L1434.2,1321.0 L1436.2,1321.6 L1438.2,1322.3 L1440.2,1323.0 L1442.2,1323.6 L1444.2,1324.3 L1446.2,1325.0 L1448.2,1325.7 L1450.2,1326.4 L1452.2,1327.1 L1454.2,1327.8 L1456.2,1328.5 L1458.2,1329.2 L1460.2,1330.0 L1462.2,1330.7 L1464.2,1331.4 L1466.2,1332.2 L1468.2,1333.0 L1470.2,1333.7 L1472.2,1334.5 L1474.2,1335.3 L1476.2,1336.0 L1478.2,1336.8 L1480.2,1337.6 L1482.2,1338.4 L1484.2,1339.2 L1486.2,1339.9 L1488.2,1340.7 L1490.2,1341.5 L1492.2,1342.3 L1494.2,1343.0 L1496.2,1343.8 L1498.2,1344.6 L1500.2,1345.3 L1502.2,1346.1 L1504.2,1346.8 L1506.2,1347.6 L1508.2,1348.3 L1510.2,1349.1 L1512.2,1349.8 L1514.2,1350.6 L1516.2,1351.3 L1518.2,1352.1 L1520.2,1352.8 L1522.2,1353.6 L1524.2,1354.3 L1526.2,1355.0 L1528.2,1355.8 L1530.2,1356.5 L1532.2,1357.2 L1534.2,1358.0 L1536.2,1358.7 L1538.2,1359.4 L1540.2,1360.1 L1542.2,1360.8 L1544.2,1361.5 L1546.2,1362.2 L1548.2,1362.9" fill="none" stroke="#000" stroke-width="5.6" stroke-linejoin="round"/>
<rect x="403.25" y="169.25" width="41" height="41.75" fill="#000" shape-rendering="crispEdges"/>
<circle cx="569.05" cy="890.5" r="19.1" fill="#000"/>
<polygon points="712.5,1059.25 741,1088 712.5,1116.75 684,1088" fill="#000"/>
<polygon points="1548.5,1341.25 1577.25,1388.75 1520,1388.75" fill="#000"/>
<g stroke="#808080" fill="#808080" stroke-linecap="round" stroke-linejoin="round">
<line x1="300" y1="332.5" x2="459.5" y2="332.5" stroke-width="15"/>
<polygon points="221.7,332.5 292,317.3 301.7,317.3 290,332.5 301.7,347.7 292,347.7" stroke-width="15"/>
</g>
<g stroke="#808080" fill="#808080" stroke-width="4">
<line x1="857.75" y1="1284.25" x2="1400" y2="826"/>
<polygon points="1543,707.5 1296,895 1400,826 1315,918.5" stroke-width="1.5" stroke-linejoin="miter"/>
</g>
<g stroke="#000" stroke-width="3" fill="none" shape-rendering="crispEdges">
<rect x="206.5" y="44.5" width="1352.0" height="1355.0"/>
<line x1="382.5" y1="1399.5" x2="382.5" y2="1388.0"/>
<line x1="382.5" y1="44.5" x2="382.5" y2="56.0"/>
<line x1="617.5" y1="1399.5" x2="617.5" y2="1377.0"/>
<line x1="617.5" y1="44.5" x2="617.5" y2="67.0"/>
<line x1="853.5" y1="1399.5" x2="853.5" y2="1388.0"/>
<line x1="853.5" y1="44.5" x2="853.5" y2="56.0"/>
<line x1="1088.5" y1="1399.5" x2="1088.5" y2="1377.0"/>
<line x1="1088.5" y1="44.5" x2="1088.5" y2="67.0"/>
<line x1="1323.5" y1="1399.5" x2="1323.5" y2="1388.0"/>
<line x1="1323.5" y1="44.5" x2="1323.5" y2="56.0"/>
<line x1="206.5" y1="1230.5" x2="218.0" y2="1230.5"/>
<line x1="206.5" y1="1060.5" x2="229.0" y2="1060.5"/>
<line x1="206.5" y1="891.5" x2="218.0" y2="891.5"/>
<line x1="206.5" y1="722.5" x2="229.0" y2="722.5"/>
<line x1="206.5" y1="552.5" x2="218.0" y2="552.5"/>
<line x1="206.5" y1="383.5" x2="229.0" y2="383.5"/>
<line x1="206.5" y1="213.5" x2="218.0" y2="213.5"/>
<line x1="1558.5" y1="1377.5" x2="1536.0" y2="1377.5"/>
<line x1="1558.5" y1="1155.5" x2="1547.0" y2="1155.5"/>
<line x1="1558.5" y1="933.5" x2="1536.0" y2="933.5"/>
<line x1="1558.5" y1="710.5" x2="1547.0" y2="710.5"/>
<line x1="1558.5" y1="488.5" x2="1536.0" y2="488.5"/>
<line x1="1558.5" y1="266.5" x2="1547.0" y2="266.5"/>
</g>
<g>
<text x="119.68" y="1419.33" font-size="57.6" letter-spacing="-0.3">20</text>
<text x="122.43" y="1248.46" font-size="55.6" letter-spacing="-0.9">30</text>
<text x="119.68" y="1080.58" font-size="57.6" letter-spacing="-0.3">40</text>
<text x="122.43" y="909.71" font-size="55.6" letter-spacing="-0.9">50</text>
<text x="119.68" y="741.83" font-size="57.6" letter-spacing="-0.3">60</text>
<text x="122.43" y="570.96" font-size="55.6" letter-spacing="-0.9">70</text>
<text x="119.68" y="403.08" font-size="57.6" letter-spacing="-0.3">80</text>
<text x="122.43" y="232.21" font-size="55.6" letter-spacing="-0.9">90</text>
<text x="87.95" y="64.33" font-size="57.6" letter-spacing="-0.3">100</text>
<text x="337.06" y="1471.99" font-size="55.6" letter-spacing="-0.9">200</text>
<text x="569.93" y="1475.23" font-size="57.6" letter-spacing="-0.3">400</text>
<text x="807.33" y="1471.99" font-size="55.6" letter-spacing="-0.9">600</text>
<text x="1040.19" y="1475.23" font-size="57.6" letter-spacing="-0.3">800</text>
<text x="1262.58" y="1471.99" font-size="55.6" letter-spacing="-0.9">1000</text>
<text x="1494.58" y="1475.23" font-size="57.6" letter-spacing="-0.3">1200</text>
<text x="1581.60" y="1397.53" font-size="57.6" letter-spacing="-0.3">0.0</text>
<text x="1581.68" y="1173.94" font-size="55.6" letter-spacing="-0.9">0.10</text>
<text x="1581.60" y="953.13" font-size="57.6" letter-spacing="-0.3">0.2</text>
<text x="1581.68" y="729.54" font-size="55.6" letter-spacing="-0.9">0.30</text>
<text x="1581.60" y="508.73" font-size="57.6" letter-spacing="-0.3">0.4</text>
<text x="1581.68" y="285.14" font-size="55.6" letter-spacing="-0.9">0.50</text>
<text x="1581.60" y="64.33" font-size="57.6" letter-spacing="-0.3">0.6</text>
<text x="1473.01" y="104.80" font-size="56.3" letter-spacing="0">(b)</text>
</g>
<text x="640.62" y="1568" font-size="61.5" letter-spacing="-0.302">Temperature (<tspan dy="-24">o</tspan><tspan dy="24">C)</tspan></text>
<text transform="translate(63.8,850.04) rotate(-90)" font-size="61.5" letter-spacing="-0.529">Mass (%)</text>
<text transform="translate(1789.1,976.94) rotate(-90)" font-size="61.5" letter-spacing="-0.369">Deriv. mass (%<tspan dy="-21.8">o</tspan><tspan dy="21.8">C)</tspan></text>
</svg></body></html>
